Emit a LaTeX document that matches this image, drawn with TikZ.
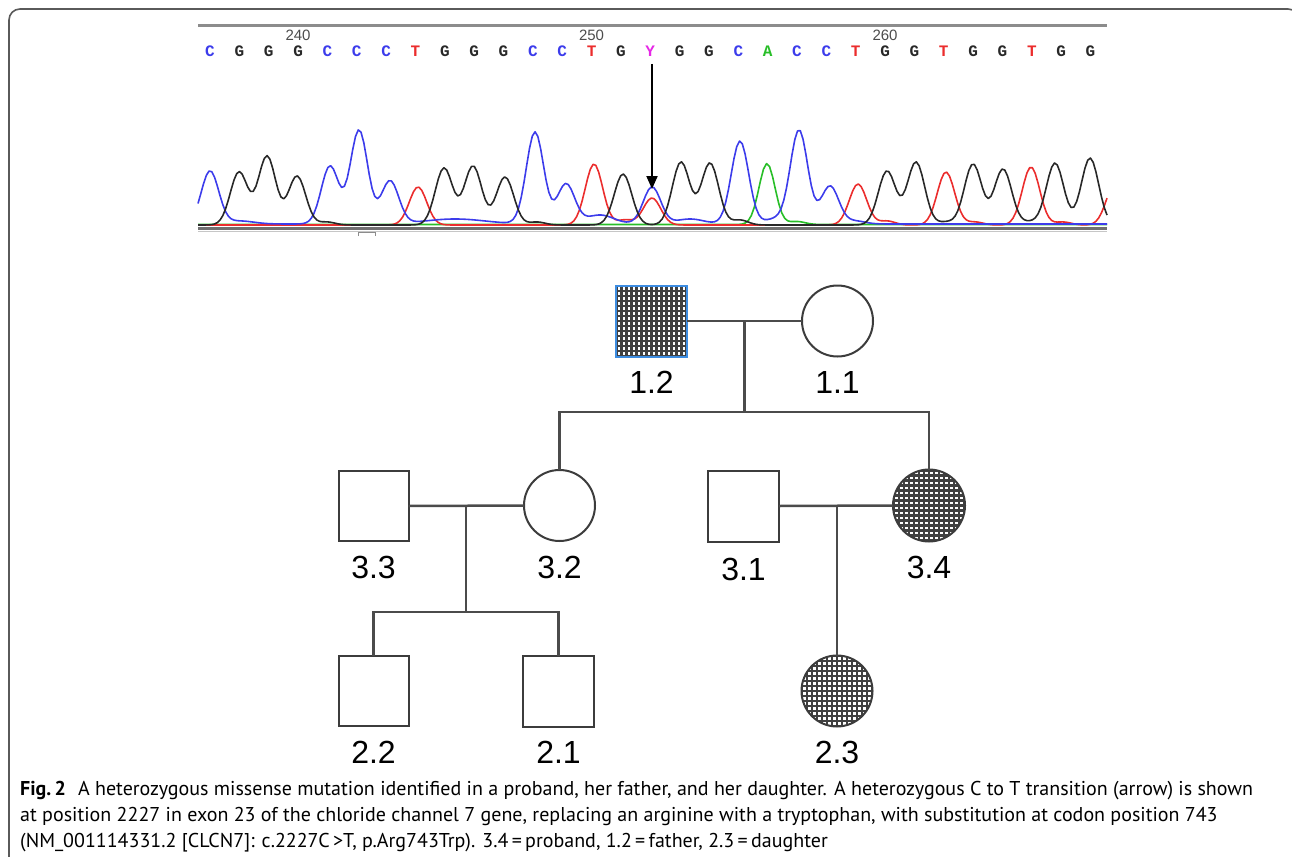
\documentclass[tikz,border=0pt]{standalone}
\usepackage{fontspec}
\setmainfont{Liberation Sans}
\newfontfamily\capfont{PT Sans}
\newfontfamily\seqfont{Liberation Mono}
\usetikzlibrary{arrows.meta}
\definecolor{cC}{RGB}{60,60,235}
\definecolor{cG}{RGB}{40,40,40}
\definecolor{cT}{RGB}{235,45,45}
\definecolor{cA}{RGB}{40,190,40}
\definecolor{cY}{RGB}{230,40,230}
\definecolor{edge}{RGB}{60,60,60}
\definecolor{lnk}{RGB}{75,75,75}
\definecolor{frm}{RGB}{90,90,90}
\definecolor{pblue}{RGB}{60,140,225}
\definecolor{axisc}{RGB}{140,140,140}
\tikzset{
  declare function={
    cl(\u)=max(-6,min(6,\u));
    g(\x,\c,\h,\s)=\h*exp(-0.5*cl((\x-\c)/\s)*cl((\x-\c)/\s));
    fk(\x)=225-g(\x,239,53,8.7)-g(\x,267,69,8.7)-g(\x,297,49,8.7)-g(\x,327,3,8)
      -g(\x,444,57,8.7)-g(\x,473,59,8.7)-g(\x,505,48,8.7)-g(\x,537,3,8)
      -g(\x,623,51,8.7)-g(\x,681,63,8.7)-g(\x,710,62,8.7)-g(\x,740,5,8)
      -g(\x,887,54,8.7)-g(\x,916,63,8.7)-g(\x,946,3,8)-g(\x,973,61,8.7)
      -g(\x,1003,56,8.7)-g(\x,1030,3,8)-g(\x,1055,62,8.7)-g(\x,1090,67,8.7);
    fb(\x)=224-g(\x,210,53,8.7)-g(\x,240,3,14)-g(\x,330,58,8.7)-g(\x,359,94,8.7)
      -g(\x,390,43,8.7)-g(\x,455,5,30)-g(\x,535,92,8.7)-g(\x,566,40,8.7)
      -g(\x,600,9,14)-g(\x,652,37,8.7)-g(\x,690,5,14)-g(\x,740,83,8.7)
      -g(\x,775,5,10)-g(\x,799,94,8.7)-g(\x,830,38,8.7)-g(\x,855,3,10);
    fr(\x)=225-g(\x,418,38,8.7)-g(\x,594,61,8.7)-g(\x,625,5,8)-g(\x,652,27,8.7)
      -g(\x,858,41,8.7)-g(\x,887,4,8)-g(\x,946,53,8.7)-g(\x,975,3,8)
      -g(\x,1031,58,8.7)-g(\x,1063,3,8)-g(\x,1115,41,8.7);
    fg(\x)=224.5-g(\x,767,61,8)-g(\x,797,3,8);
  },
  trace/.style={line width=1.6pt, line join=round},
  male/.style={rectangle, draw=edge, line width=2pt, minimum size=71pt, inner sep=0pt, outer sep=0pt},
  female/.style={circle, draw=edge, line width=2pt, minimum size=71pt, inner sep=0pt, outer sep=0pt},
  hatch/.style={path picture={
    \foreach \k in {-9,...,9}{
      \draw[line width=2.1pt, black!75]
        ([xshift=\k*5pt, yshift=45pt]path picture bounding box.center) -- ++(0,-90pt);
      \draw[line width=2.1pt, black!75]
        ([yshift=\k*5pt, xshift=-45pt]path picture bounding box.center) -- ++(90pt,0);
    }}},
  lab/.style={anchor=base, inner sep=0pt, font=\fontsize{32}{36}\selectfont, text=black},
  pedlink/.style={draw=lnk, line width=2.5pt},
  seqtext/.style={anchor=base, inner sep=0pt, font=\seqfont\bfseries\fontsize{16}{16}\selectfont},
  numtext/.style={anchor=base, inner sep=0pt, font=\fontsize{15}{15}\selectfont, text=black!70},
  captext/.style={anchor=base west, inner sep=0pt, font=\capfont\fontsize{20}{24}\selectfont, text=black}
}
\begin{document}
\begin{tikzpicture}[x=1pt, y=-1pt]
\useasboundingbox (0,0) rectangle (1292,856);
% frame
\begin{scope}
\clip (0,0) rectangle (1292,856);
\draw[frm, line width=1.6pt, rounded corners=11pt] (9,880) -- (9,9) -- (1299,9) -- (1299,880);
\end{scope}
% chromatogram axes
\draw[axisc, line width=3pt] (198,26) -- (1107,26);
\draw[axisc!80!black, line width=3pt] (198,228) -- (1107,228);
\draw[axisc!50, line width=1.2pt] (198,231.5) -- (1107,231.5);
\draw[axisc, line width=1pt] (358,236) -- (358,232) -- (375,232) -- (375,236);
% traces
\draw[trace, cA] plot[domain=198:1107, samples=300, variable=\x] (\x,{fg(\x)});
\draw[trace, cT] plot[domain=198:1107, samples=330, variable=\x] (\x,{fr(\x)});
\draw[trace, cC] plot[domain=198:1107, samples=330, variable=\x] (\x,{fb(\x)});
\draw[trace, cG] plot[domain=198:1107, samples=330, variable=\x] (\x,{fk(\x)});
% sequence letters
\foreach \b/\c [count=\i from 0] in {C/cC,G/cG,G/cG,G/cG,C/cC,C/cC,C/cC,T/cT,G/cG,G/cG,G/cG,C/cC,C/cC,T/cT,G/cG,Y/cY,G/cG,G/cG,C/cC,A/cA,C/cC,C/cC,T/cT,G/cG,G/cG,T/cT,G/cG,G/cG,T/cT,G/cG,G/cG}{
  \node[seqtext, text=\c] (b\i) at ({210+\i*29.35},57) {\b};
}
\node[numtext] (n240) at (b3.base |- 0,41) {240};
\node[numtext] (n250) at (b13.base |- 0,41) {250};
\node[numtext] (n260) at (b23.base |- 0,41) {260};
\coordinate (atop) at (652,64);
\coordinate (atip) at (652,189);
\draw[black, line width=2pt, -{Triangle[width=11pt,length=13pt]}] (atop) -- (atip);
% pedigree symbols
\node[male, draw=pblue, hatch] (p12) at (651.5,321) {};
\node[female] (p11) at (837.5,321) {};
\node[male, minimum size=70pt] (p33) at (373.5,506) {};
\node[female] (p32) at (559.5,505.5) {};
\node[male] (p31) at (743.5,506) {};
\node[female, hatch, minimum size=72pt] (p34) at (929,505.5) {};
\node[male, minimum size=70pt] (p22) at (373.5,691) {};
\node[male] (p21) at (558.5,691) {};
\node[female, hatch, minimum size=71pt] (p23) at (837,691) {};
% labels
\node[lab] (l12) at (651.5,393) {1.2};
\node[lab] (l11) at (837.5,393) {1.1};
\node[lab] (l33) at (373.5,578) {3.3};
\node[lab] (l32) at (559.5,578) {3.2};
\node[lab] (l31) at (743.5,580) {3.1};
\node[lab] (l34) at (929,578) {3.4};
\node[lab] (l22) at (373.5,763) {2.2};
\node[lab] (l21) at (558.5,763) {2.1};
\node[lab] (l23) at (837,763) {2.3};
% connectors
\coordinate (m1) at (744.5,321);
\coordinate (s1) at (744.5,412);
\coordinate (m2) at (466,506);
\coordinate (s2) at (466,612);
\coordinate (m3) at (p23.north |- p31.east);
\draw[pedlink] (p12.east) -- (p11.west);
\draw[pedlink] (m1) -- (s1);
\draw[pedlink] (p32.north) -- (p32.north |- s1) -- (p34.north |- s1) -- (p34.north);
\draw[pedlink] (p33.east) -- (p32.west);
\draw[pedlink] (m2) -- (s2);
\draw[pedlink] (p22.north) -- (p22.north |- s2) -- (p21.north |- s2) -- (p21.north);
\draw[pedlink] (p31.east) -- (p34.west);
\draw[pedlink] (m3) -- (p23.north);
% caption
\node[captext] (c1) at (20,795) {{\bfseries Fig.\,2}\hspace{12pt}A heterozygous missense mutation identified in a proband, her father, and her daughter. A heterozygous C to T transition (arrow) is shown};
\node[captext] (c2) at (20,821) {at position 2227 in exon 23 of the chloride channel 7 gene, replacing an arginine with a tryptophan, with substitution at codon position 743};
\node[captext] (c3) at (20,847) {(NM\_001114331.2 [CLCN7]: c.2227C\,>T, p.Arg743Trp). 3.4\,=\,proband, 1.2\,=\,father, 2.3\,=\,daughter};
\end{tikzpicture}
\end{document}
